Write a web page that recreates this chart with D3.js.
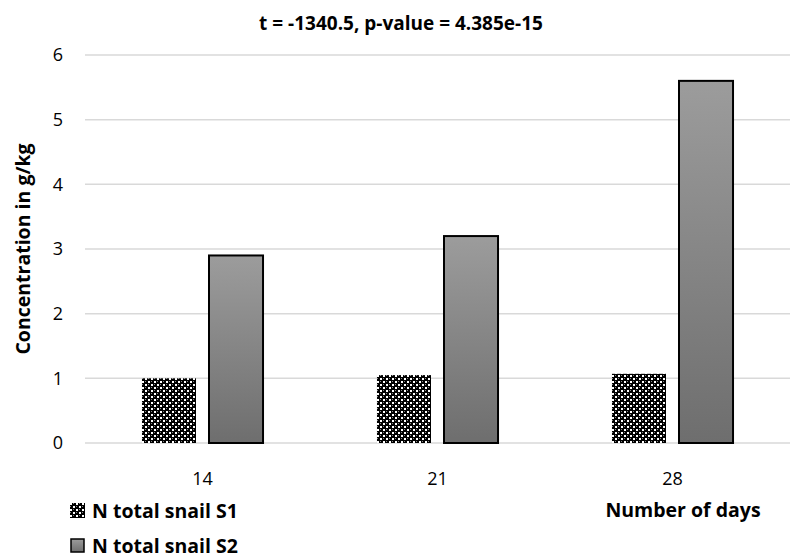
<!DOCTYPE html>
<html>
<head>
<meta charset="utf-8">
<script src="https://cdn.jsdelivr.net/npm/d3@7"></script>
<style>
  body { margin: 0; background: #fff; }
  text { font-family: "Open Sans", "DejaVu Sans", sans-serif; fill: #000; }
</style>
</head>
<body>
<div id="chart"></div>
<script>
// chart values
var days = ["14", "21", "28"];
var seriesNames = ["N total snail S1", "N total snail S2"];
var s1Values = [1.0, 1.05, 1.07];
var s2Values = [2.9, 3.2, 5.6];
var yTicks = [0, 1, 2, 3, 4, 5, 6];
var chartTitle = "t = -1340.5, p-value = 4.385e-15";

var width = 795, height = 560;
var margin = { top: 55, right: 5, bottom: 117, left: 85 };

var data = days.map(function (d, i) {
  return { day: d, values: [s1Values[i], s2Values[i]] };
});

var svg = d3.select("#chart").append("svg")
  .attr("width", width)
  .attr("height", height);

var defs = svg.append("defs");

// dotted checker pattern for S1
var pat = defs.append("pattern")
  .attr("id", "checker")
  .attr("patternUnits", "userSpaceOnUse")
  .attr("width", 6).attr("height", 6);
pat.append("rect").attr("width", 6).attr("height", 6).attr("fill", "#000");
pat.append("rect").attr("x", 0).attr("y", 0).attr("width", 2).attr("height", 2).attr("fill", "#fff");
pat.append("rect").attr("x", 3).attr("y", 3).attr("width", 2).attr("height", 2).attr("fill", "#fff");
pat.append("rect").attr("x", 3).attr("y", 0).attr("width", 1).attr("height", 1).attr("fill", "#888");
pat.append("rect").attr("x", 0).attr("y", 3).attr("width", 1).attr("height", 1).attr("fill", "#888");

// vertical grey gradient for S2
var grad = defs.append("linearGradient")
  .attr("id", "greyGrad")
  .attr("x1", 0).attr("y1", 0).attr("x2", 0).attr("y2", 1);
grad.append("stop").attr("offset", "0%").attr("stop-color", "#9c9c9c");
grad.append("stop").attr("offset", "100%").attr("stop-color", "#6e6e6e");

var x0 = d3.scaleBand()
  .domain(days)
  .range([margin.left, width - margin.right])
  .paddingInner(0).paddingOuter(0);

var x1 = d3.scaleBand()
  .domain([0, 1])
  .range([0, x0.bandwidth()])
  .paddingInner(0.194)
  .paddingOuter(0.85);

var y = d3.scaleLinear()
  .domain([0, 6])
  .range([height - margin.bottom, margin.top]);

// gridlines
svg.append("g")
  .selectAll("line")
  .data(yTicks)
  .enter().append("line")
  .attr("x1", margin.left)
  .attr("x2", width - margin.right)
  .attr("y1", function (d) { return y(d); })
  .attr("y2", function (d) { return y(d); })
  .attr("stroke", "#d9d9d9")
  .attr("stroke-width", 1.5);

// y tick labels
var yAxis = svg.append("g")
  .attr("transform", "translate(" + (margin.left - 16) + ",0)")
  .call(d3.axisLeft(y).tickValues(yTicks).tickFormat(d3.format("d")).tickSize(0).tickPadding(6));
yAxis.select(".domain").remove();
yAxis.selectAll("text").style("font-size", "18px").attr("fill", "#000");

// x tick labels
var xAxis = svg.append("g")
  .attr("transform", "translate(0," + (height - margin.bottom) + ")")
  .call(d3.axisBottom(x0).tickSize(0).tickPadding(29));
xAxis.select(".domain").remove();
xAxis.selectAll("text").style("font-size", "18px").attr("fill", "#000");

// bars
var groups = svg.append("g")
  .selectAll("g")
  .data(data)
  .enter().append("g")
  .attr("transform", function (d) { return "translate(" + x0(d.day) + ",0)"; });

groups.selectAll("rect")
  .data(function (d) { return d.values; })
  .enter().append("rect")
  .attr("x", function (d, i) { return x1(i); })
  .attr("y", function (d) { return y(d); })
  .attr("width", x1.bandwidth())
  .attr("height", function (d) { return y(0) - y(d); })
  .attr("fill", function (d, i) { return i === 0 ? "url(#checker)" : "url(#greyGrad)"; })
  .attr("stroke", function (d, i) { return i === 0 ? "none" : "#000"; })
  .attr("stroke-width", 2);

// title
svg.append("text")
  .attr("x", 401)
  .attr("y", 30)
  .attr("text-anchor", "middle")
  .style("font-size", "19px")
  .style("font-weight", "bold")
  .text(chartTitle);

// y axis title
svg.append("text")
  .attr("transform", "translate(30," + y(3) + ") rotate(-90)")
  .attr("text-anchor", "middle")
  .style("font-size", "19.5px")
  .style("font-weight", "bold")
  .text("Concentration in g/kg");

// x axis title
svg.append("text")
  .attr("x", 683)
  .attr("y", 517)
  .attr("text-anchor", "middle")
  .style("font-size", "19.5px")
  .style("font-weight", "bold")
  .text("Number of days");

// legend
var legend = svg.append("g")
  .selectAll("g")
  .data(seriesNames)
  .enter().append("g")
  .attr("transform", function (d, i) { return "translate(70," + (503 + i * 35) + ")"; });

legend.append("rect")
  .attr("x", function (d, i) { return i === 0 ? 0 : 1; })
  .attr("y", function (d, i) { return i === 0 ? 0 : 1; })
  .attr("width", function (d, i) { return i === 0 ? 15 : 13; })
  .attr("height", function (d, i) { return i === 0 ? 15 : 13; })
  .attr("fill", function (d, i) { return i === 0 ? "url(#checker)" : "url(#greyGrad)"; })
  .attr("stroke", function (d, i) { return i === 0 ? "none" : "#000"; })
  .attr("stroke-width", 1.5);

legend.append("text")
  .attr("x", 22)
  .attr("y", 15)
  .style("font-size", "19.5px")
  .style("font-weight", "bold")
  .text(function (d) { return d; });
</script>
</body>
</html>
